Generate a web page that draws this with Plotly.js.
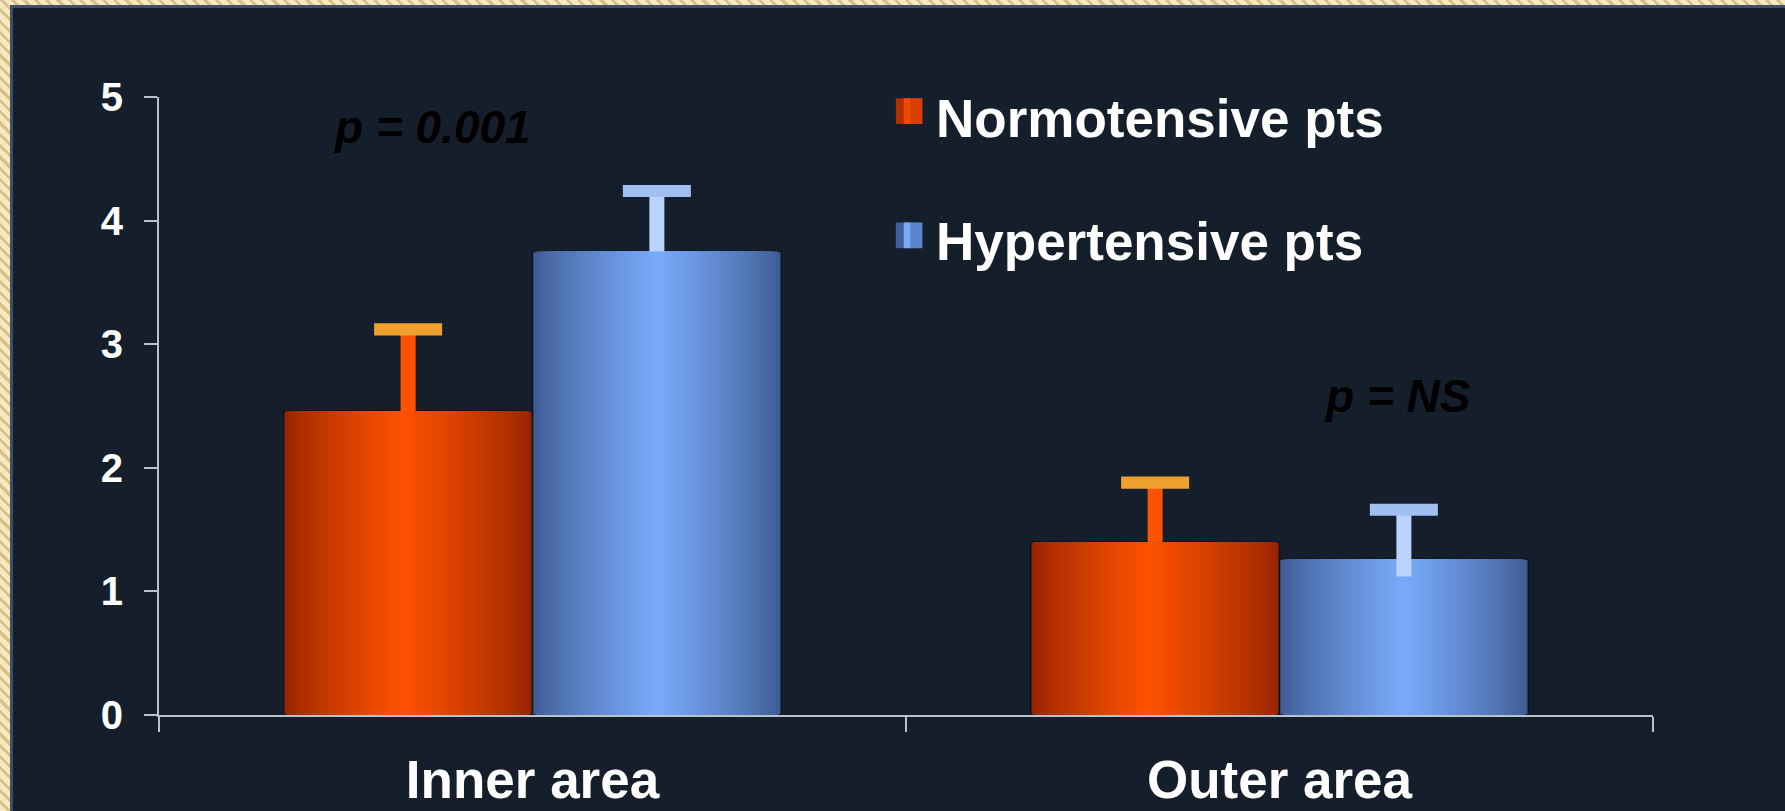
<!DOCTYPE html>
<html>
<head>
<meta charset="utf-8">
<script src="https://cdn.plot.ly/plotly-3.0.1.min.js"></script>
<style>
  html, body { margin: 0; padding: 0; width: 1785px; height: 811px; overflow: hidden; }
  body { background: repeating-linear-gradient(45deg, #f6e8bf 0px, #f6e8bf 5px, #dcc088 5px, #dcc088 8px); }
  #panel { position: absolute; left: 10px; top: 5px; width: 1800px; height: 830px;
           background: #151f2c; border: 3px solid #3d4f69; box-sizing: border-box; }
  #chart { position: absolute; left: 0; top: 0; width: 1785px; height: 811px; }
</style>
</head>
<body>
<div id="panel"></div>
<div id="chart"></div>
<script>
// ---- data ----
const categories = ['Inner area', 'Outer area'];
const normotensive = [2.46, 1.40];
const normotensiveErr = [0.66, 0.48];
const normotensiveErrMinus = [0, 0];
const hypertensive = [3.75, 1.26];
const hypertensiveErr = [0.49, 0.40];
const hypertensiveErrMinus = [0, 0.14];
const seriesNames = ['Normotensive pts', 'Hypertensive pts'];
const pLabels = ['p = 0.001', 'p = NS'];
const yTicks = [0, 1, 2, 3, 4, 5];

// ---- styling ----
const FONT = 'Liberation Sans, Arial, Helvetica, sans-serif';
const AXIS_COLOR = '#b9c1ca';
const BAR_W = 0.333;          // width of one bar, in category units
const LAYERS = 40;            // steps of the cylinder-style shading

const series = [
  { name: seriesNames[0], y: normotensive, err: normotensiveErr, errMinus: normotensiveErrMinus,
    slot: -BAR_W, peak: 0.47, edge: [150, 36, 0], center: [255, 82, 0],
    stem: '#ff5200', cap: '#efa12f' },
  { name: seriesNames[1], y: hypertensive, err: hypertensiveErr, errMinus: hypertensiveErrMinus,
    slot: 0, peak: 0.5, edge: [62, 90, 146], center: [122, 172, 252],
    stem: '#b9d3fb', cap: '#a2bff2' }
];

function mix(a, b, t) {
  const c = a.map((v, i) => Math.round(v + (b[i] - v) * t));
  return 'rgb(' + c.join(',') + ')';
}
const same = (v, arr) => arr.map(() => v);

const traces = [];
series.forEach(s => {
  // shaded bar body: nested bars narrowing toward the highlight
  for (let k = 0; k < LAYERS; k++) {
    const f = k / LAYERS;
    const left = s.slot + f * s.peak * BAR_W;
    const right = s.slot + BAR_W - f * (1 - s.peak) * BAR_W;
    traces.push({
      type: 'bar', x: categories, y: s.y, name: s.name,
      offset: same(left, s.y), width: same(right - left, s.y),
      marker: { color: mix(s.edge, s.center, Math.pow(f, 0.8)),
                line: { width: k === 0 ? 1.5 : 0, color: '#0c131d' } },
      hoverinfo: k === 0 ? 'y+name' : 'skip', showlegend: false
    });
  }
  // error bar stems
  traces.push({
    type: 'bar', x: categories, y: s.y, name: s.name,
    offset: same(s.slot, s.y), width: same(BAR_W, s.y),
    marker: { color: 'rgba(0,0,0,0)' },
    error_y: { type: 'data', symmetric: false, array: s.err, arrayminus: s.errMinus,
               color: s.stem, thickness: 15, width: 0 },
    hoverinfo: 'skip', showlegend: false
  });
  // error bar caps, at the end of each error bar
  traces.push({
    type: 'bar', x: categories, y: s.y.map((v, i) => v + s.err[i]), name: s.name,
    offset: same(s.slot, s.y), width: same(BAR_W, s.y),
    marker: { color: 'rgba(0,0,0,0)' },
    error_y: { type: 'data', symmetric: true, array: same(0.0001, s.y),
               color: s.cap, thickness: 12, width: 34 },
    hoverinfo: 'skip', showlegend: false
  });
});

// ---- legend (large swatches + labels) ----
const legendRows = [
  { text: seriesNames[0], y0: 0.9563, y1: 0.9979, ty: 0.966, colors: ['#b02e00', '#f04a00', '#d83e00'] },
  { text: seriesNames[1], y0: 0.7554, y1: 0.7968, ty: 0.7663, colors: ['#3f5f9c', '#79a9f5', '#5c86cc'] }
];
const shapes = [];
const annotations = [];
legendRows.forEach(r => {
  const x0 = 0.4932, x1 = 0.5109, w = x1 - x0;
  shapes.push({ type: 'rect', xref: 'paper', yref: 'paper', x0: x0, x1: x1, y0: r.y0, y1: r.y1,
                fillcolor: r.colors[0], line: { width: 0 } });
  shapes.push({ type: 'rect', xref: 'paper', yref: 'paper', x0: x0 + w * 0.3, x1: x1, y0: r.y0, y1: r.y1,
                fillcolor: r.colors[2], line: { width: 0 } });
  shapes.push({ type: 'rect', xref: 'paper', yref: 'paper', x0: x0 + w * 0.3, x1: x0 + w * 0.55, y0: r.y0, y1: r.y1,
                fillcolor: r.colors[1], line: { width: 0 } });
  annotations.push({ xref: 'paper', yref: 'paper', x: 0.5185, y: r.ty, xanchor: 'left', yanchor: 'middle',
                     text: r.text, showarrow: false,
                     font: { family: FONT, size: 53, color: '#ffffff', weight: 'bold' } });
});

// significance labels
const pPos = [{ x: -0.135, y: 4.76 }, { x: 1.158, y: 2.58 }];
pLabels.forEach((t, i) => {
  annotations.push({ xref: 'x', yref: 'y', x: pPos[i].x, y: pPos[i].y, xanchor: 'center', yanchor: 'middle',
                     text: t, showarrow: false,
                     font: { family: FONT, size: 46, color: '#000000', weight: 'bold', style: 'italic' } });
});

const layout = {
  width: 1785, height: 811,
  margin: { l: 159, r: 132, t: 97, b: 96, pad: 0 },
  paper_bgcolor: 'rgba(0,0,0,0)', plot_bgcolor: 'rgba(0,0,0,0)',
  barmode: 'overlay', showlegend: false,
  font: { family: FONT, color: '#ffffff', weight: 'bold' },
  xaxis: {
    type: 'category', categoryorder: 'array', categoryarray: categories, range: [-0.5, 1.5],
    tickson: 'boundaries', ticks: 'outside', ticklen: 15, tickwidth: 2, tickcolor: AXIS_COLOR,
    showline: true, linecolor: AXIS_COLOR, linewidth: 2, showgrid: false, zeroline: false,
    tickfont: { family: FONT, size: 53, color: '#ffffff', weight: 'bold' },
    ticklabelstandoff: 17, fixedrange: true
  },
  yaxis: {
    range: [0, 5], tickvals: yTicks, ticktext: yTicks.map(String),
    ticks: 'outside', ticklen: 13, tickwidth: 2, tickcolor: AXIS_COLOR,
    showline: true, linecolor: AXIS_COLOR, linewidth: 2, showgrid: false, zeroline: false,
    tickfont: { family: FONT, size: 40, color: '#ffffff', weight: 'bold' },
    ticklabelstandoff: 13, fixedrange: true
  },
  shapes: shapes,
  annotations: annotations
};

Plotly.newPlot('chart', traces, layout, { displayModeBar: false, staticPlot: true });
</script>
</body>
</html>
